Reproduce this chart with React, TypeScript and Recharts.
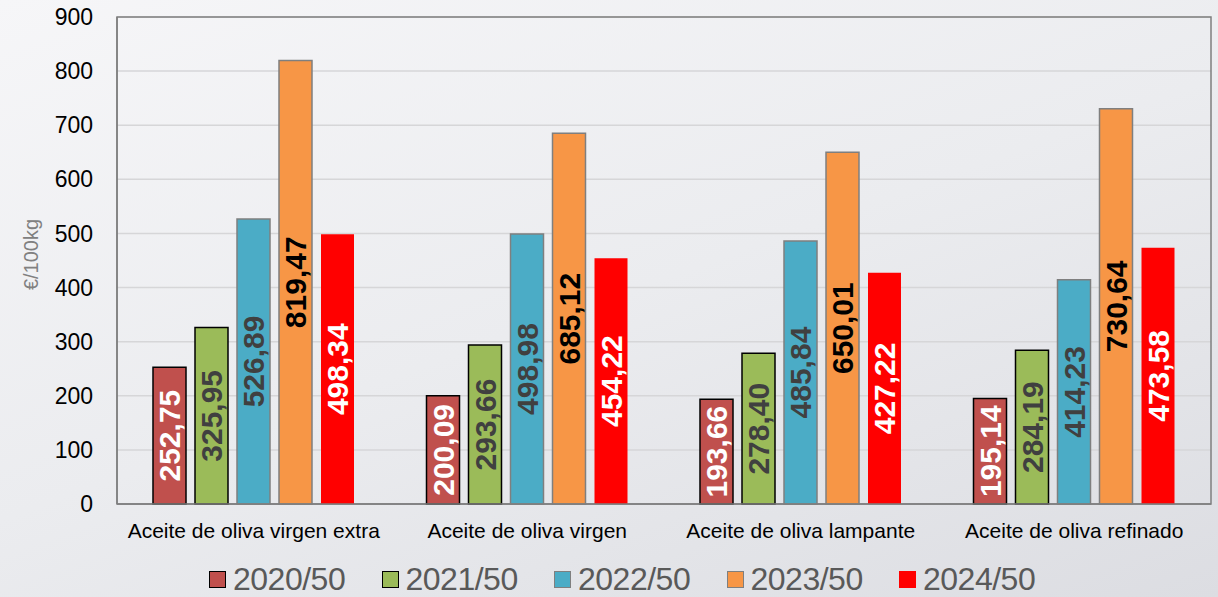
import { BarChart, Bar, XAxis, YAxis, CartesianGrid, Legend, LabelList, ReferenceArea } from 'recharts';

const categories = [
  'Aceite de oliva virgen extra',
  'Aceite de oliva virgen',
  'Aceite de oliva lampante',
  'Aceite de oliva refinado',
];

const v2020 = [252.75, 200.09, 193.66, 195.14];
const v2021 = [325.95, 293.66, 278.4, 284.19];
const v2022 = [526.89, 498.98, 485.84, 414.23];
const v2023 = [819.47, 685.12, 650.01, 730.64];
const v2024 = [498.34, 454.22, 427.22, 473.58];

const seriesNames = ['2020/50', '2021/50', '2022/50', '2023/50', '2024/50'];
const yTicks = [0, 100, 200, 300, 400, 500, 600, 700, 800, 900];

const data = categories.map((name, i) => ({
  name,
  s2020: v2020[i],
  s2021: v2021[i],
  s2022: v2022[i],
  s2023: v2023[i],
  s2024: v2024[i],
}));

const series = [
  { key: 's2020', fill: '#c0504d', stroke: '#000', label: '#fff' },
  { key: 's2021', fill: '#9bbb59', stroke: '#000', label: '#404040' },
  { key: 's2022', fill: '#4bacc6', stroke: '#7f7f7f', label: '#404040' },
  { key: 's2023', fill: '#f79646', stroke: '#7f7f7f', label: '#000' },
  { key: 's2024', fill: '#ff0000', stroke: 'none', label: '#fff' },
];

const font = '"Liberation Sans", Arial, sans-serif';
const fmt = (v: any) => Number(v).toFixed(2).replace('.', ',');

function LegendBox() {
  return (
    <div style={{ display: 'flex', paddingLeft: 209, paddingTop: 9, fontFamily: font }}>
      {series.map((s, i) => (
        <div key={s.key} style={{ display: 'flex', alignItems: 'center', width: 172.5 }}>
          <span
            style={{
              display: 'inline-block',
              width: 15,
              height: 15,
              background: s.fill,
              border: s.stroke === 'none' ? '0.5px solid ' + s.fill : '1px solid ' + s.stroke,
              marginRight: 7,
            }}
          />
          <span style={{ fontSize: 32, color: '#595959', lineHeight: '32px', letterSpacing: -0.5 }}>
            {seriesNames[i]}
          </span>
        </div>
      ))}
    </div>
  );
}

export default function App() {
  return (
    <div
      style={{
        position: 'absolute',
        left: 0,
        top: 0,
        width: 1218,
        height: 597,
        background: 'linear-gradient(160deg, #f6f6f8 0%, #ebecef 50%, #dcdde2 100%)',
        fontFamily: font,
      }}
    >
      <BarChart
        width={1218}
        height={597}
        data={data}
        margin={{ top: 17, right: 7, left: 0, bottom: 0 }}
        barCategoryGap={36}
        barGap={9}
      >
        <CartesianGrid vertical={false} stroke="#d6d6d8" strokeWidth={1.5} />
        <XAxis
          dataKey="name"
          interval={0}
          tickLine={false}
          tickSize={0}
          tickMargin={19}
          height={50}
          axisLine={{ stroke: '#7f7f7f', strokeWidth: 1.5 }}
          tick={{ fontSize: 21, fill: '#000', fontFamily: font }}
        />
        <YAxis
          width={117}
          domain={[0, 900]}
          ticks={yTicks}
          interval={0}
          tickLine={false}
          tickSize={0}
          tickMargin={24}
          axisLine={{ stroke: '#7f7f7f', strokeWidth: 1.5 }}
          tick={{ fontSize: 23, fill: '#000', fontFamily: font }}
          label={{
            value: '€/100kg',
            angle: -90,
            position: 'insideLeft',
            offset: 31,
            dy: -6,
            style: { fontSize: 20, fill: '#808080', fontFamily: font, textAnchor: 'middle' },
          }}
        />
        <ReferenceArea y1={0} y2={900} fill="none" stroke="#7f7f7f" strokeWidth={1.5} ifOverflow="visible" />
        <Legend verticalAlign="bottom" height={43} content={() => <LegendBox />} />
        {series.map((s, i) => (
          <Bar
            key={s.key}
            dataKey={s.key}
            name={seriesNames[i]}
            fill={s.fill}
            stroke={s.stroke}
            strokeWidth={1.5}
            isAnimationActive={false}
          >
            <LabelList
              dataKey={s.key}
              position="center"
              angle={-90}
              formatter={fmt}
              fill={s.label}
              style={{ fontSize: 30, fontWeight: 'bold', fontFamily: font, fill: s.label }}
            />
          </Bar>
        ))}
      </BarChart>
    </div>
  );
}
